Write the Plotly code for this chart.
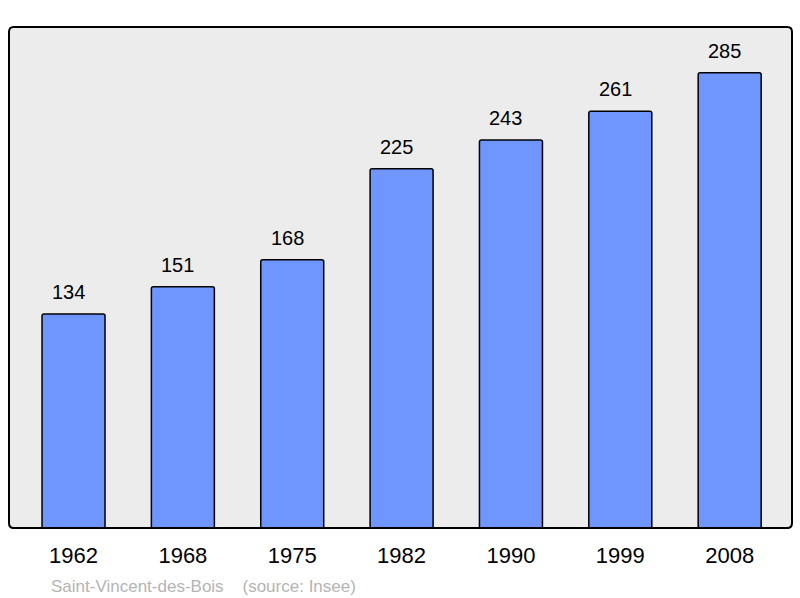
import plotly.graph_objects as go

years = ["1962", "1968", "1975", "1982", "1990", "1999", "2008"]
population = [134, 151, 168, 225, 243, 261, 285]
caption = "Saint-Vincent-des-Bois\u00a0\u00a0\u00a0\u00a0(source: Insee)"

idx = list(range(len(years)))

fig = go.Figure()
fig.add_trace(go.Bar(
    x=idx, y=population, width=0.576,
    marker=dict(color="#6f96ff", line=dict(color="black", width=1.5), cornerradius=2),
    hoverinfo="skip",
))

for i, v in zip(idx, population):
    fig.add_annotation(x=i, y=v, text=str(v), showarrow=False, yanchor="bottom",
                       yshift=9, xshift=-5,
                       font=dict(family="Liberation Sans, Arial", size=20, color="black"))

fig.add_annotation(xref="paper", yref="paper", x=0.051, y=-0.116, xanchor="left", yanchor="middle",
                   text=caption, showarrow=False,
                   font=dict(family="Liberation Sans, Arial", size=17, color="#b4b4b4"))

# rounded frame
fig.add_shape(type="path", xref="paper", yref="paper",
              path="M 0.006,0 L 0.994,0 Q 1,0 1,0.01 L 1,0.99 Q 1,1 0.994,1 L 0.006,1 Q 0,1 0,0.99 L 0,0.01 Q 0,0 0.006,0 Z",
              line=dict(color="black", width=2), layer="above")

fig.update_layout(
    width=800, height=598,
    margin=dict(l=9, r=8, t=27, b=70),
    paper_bgcolor="white", plot_bgcolor="#ececec",
    showlegend=False,
    xaxis=dict(range=[-0.59, 6.57], showgrid=False, zeroline=False, showline=False,
               tickmode="array", tickvals=idx, ticktext=years,
               ticks="outside", ticklen=8, tickcolor="rgba(0,0,0,0)",
               tickfont=dict(family="Liberation Sans, Arial", size=22, color="black")),
    yaxis=dict(range=[0, 313.7], visible=False, showgrid=False, zeroline=False),
)

fig.write_html("out.html", config={"displayModeBar": False},
               post_script="document.body.style.margin='0';")
